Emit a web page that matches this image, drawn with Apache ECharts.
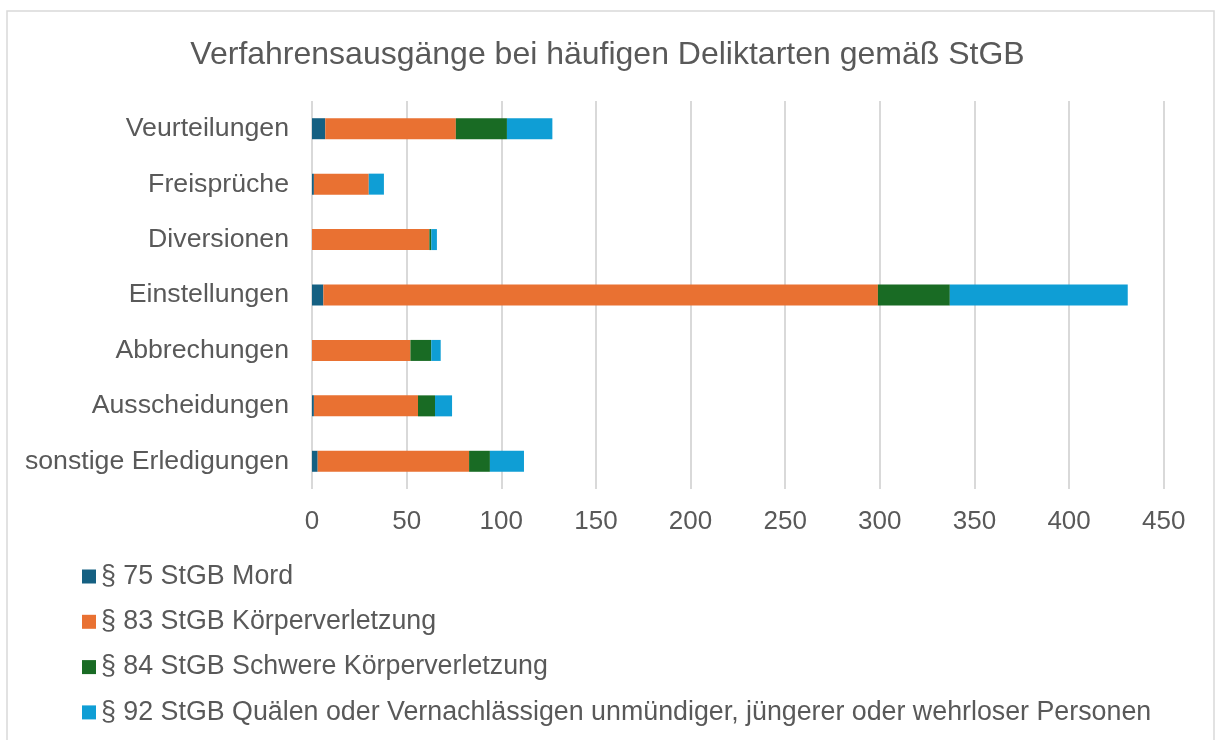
<!DOCTYPE html>
<html><head><meta charset="utf-8">
<script src="https://cdn.jsdelivr.net/npm/echarts@6/dist/echarts.min.js"></script>
<style>html,body{margin:0;padding:0;background:#fff}#c{width:1215px;height:740px}</style>
</head><body><div id="c"></div>
<script>
const titleText = "Verfahrensausgänge bei häufigen Deliktarten gemäß StGB";
const categories = ["Veurteilungen","Freisprüche","Diversionen","Einstellungen","Abbrechungen","Ausscheidungen","sonstige Erledigungen"];
const seriesNames = ["§ 75 StGB Mord","§ 83 StGB Körperverletzung","§ 84 StGB Schwere Körperverletzung","§ 92 StGB Quälen oder Vernachlässigen unmündiger, jüngerer oder wehrloser Personen"];
const mord = [7,1,0,6,0,1,3];
const koerper = [69,29,62,293,52,55,80];
const schwer = [27,0,1,38,11,9,11];
const quaelen = [24,8,3,94,5,9,18];
const xTicks = [0,50,100,150,200,250,300,350,400,450];

const colors = ["#156082","#E97132","#196B24","#0F9ED5"];
const values = [mord,koerper,schwer,quaelen];
const font = "'Liberation Sans', Arial, sans-serif";
const txt = "#595959";

const chart = echarts.init(document.getElementById('c'), null, {renderer:'canvas'});
chart.setOption({
  animation:false,
  color: colors,
  textStyle:{fontFamily:font},
  graphic:[{type:'rect',shape:{x:7,y:11,width:1207,height:760},style:{fill:'none',stroke:'#D9D9D9',lineWidth:1.5},silent:true,z:-1}],
  title:{text:titleText,left:'center',top:34,textStyle:{fontFamily:font,fontSize:32,fontWeight:'normal',color:txt}},
  legend:{orient:'vertical',left:77,top:558,itemWidth:14,itemHeight:14,itemGap:18.3,icon:'rect',
    textStyle:{fontFamily:font,fontSize:26.8,color:txt,padding:[0,0,0,0]},data:seriesNames},
  grid:{left:312,right:51.3,top:101,bottom:251,containLabel:false},
  xAxis:{type:'value',min:0,max:450,interval:50,
    axisLine:{show:false},axisTick:{show:false},
    axisLabel:{fontFamily:font,fontSize:26,color:txt,margin:20,formatter:v=>xTicks.includes(v)?String(v):''},
    splitLine:{show:true,lineStyle:{color:'#D9D9D9',width:2}}},
  yAxis:{type:'category',data:categories,inverse:true,
    axisLine:{show:false},axisTick:{show:false},
    axisLabel:{fontFamily:font,fontSize:26.7,color:txt,margin:23,padding:[3,0,0,0]}},
  series: seriesNames.map((n,i)=>({name:n,type:'bar',stack:'total',barWidth:21,data:values[i],itemStyle:{color:colors[i]}}))
});
</script></body></html>
